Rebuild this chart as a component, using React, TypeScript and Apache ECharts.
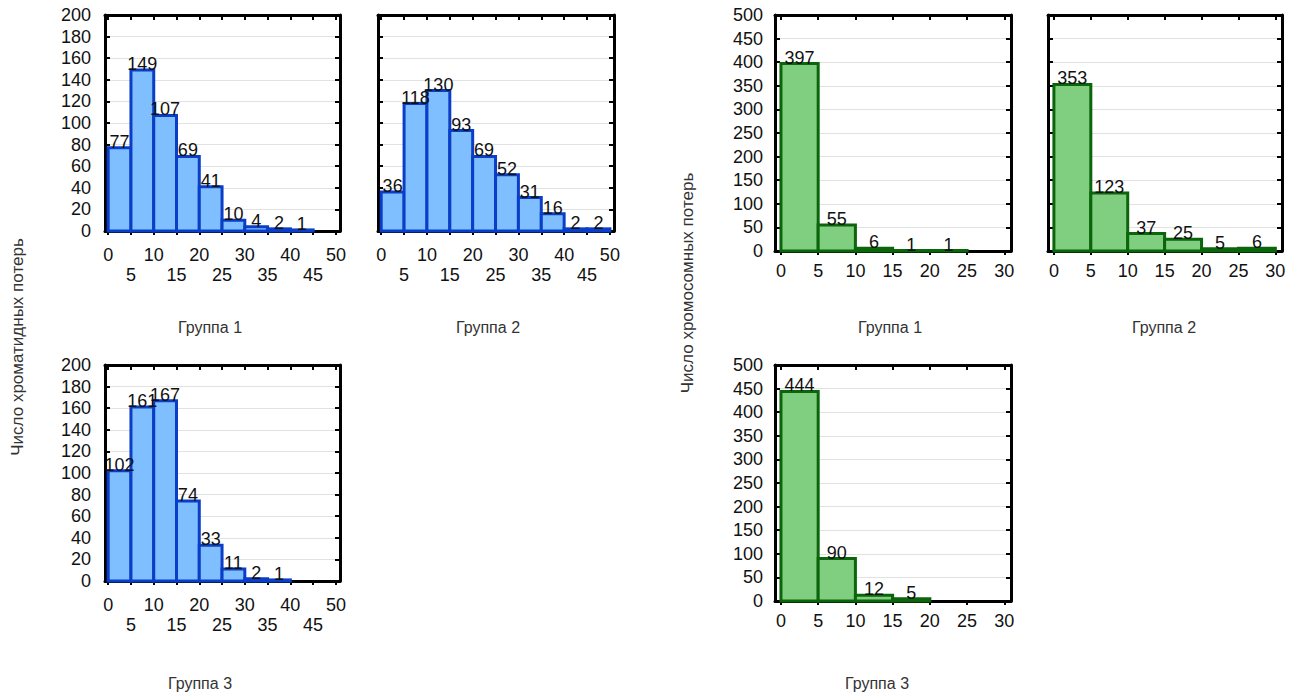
import React, { useEffect, useRef } from "react";
import * as echarts from "echarts";

// ---- data ----
const blueBinEdges = [0, 5, 10, 15, 20, 25, 30, 35, 40, 45, 50];
const greenBinEdges = [0, 5, 10, 15, 20, 25, 30];

const chromatidGroup1 = [77, 149, 107, 69, 41, 10, 4, 2, 1];
const chromatidGroup2 = [36, 118, 130, 93, 69, 52, 31, 16, 2, 2];
const chromatidGroup3 = [102, 161, 167, 74, 33, 11, 2, 1];

const chromosomeGroup1 = [397, 55, 6, 1, 1];
const chromosomeGroup2 = [353, 123, 37, 25, 5, 6];
const chromosomeGroup3 = [444, 90, 12, 5];

const blueXTicks = [0, 5, 10, 15, 20, 25, 30, 35, 40, 45, 50];
const greenXTicks = [0, 5, 10, 15, 20, 25, 30];

const groupTitles = ["Группа 1", "Группа 2", "Группа 3"];
const chromatidAxisName = "Число хроматидных потерь";
const chromosomeAxisName = "Число хромосомных потерь";

const FONT = "'Liberation Sans', Arial, sans-serif";

type Panel = {
  counts: number[];
  edges: number[];
  kind: "blue" | "green";
  left: number;
  top: number;
  width: number;
  height: number;
  yLabels: boolean;
};

const panels: Panel[] = [
  { counts: chromatidGroup1, edges: blueBinEdges, kind: "blue", left: 105, top: 15, width: 235, height: 216, yLabels: true },
  { counts: chromatidGroup2, edges: blueBinEdges, kind: "blue", left: 378, top: 15, width: 236, height: 216, yLabels: false },
  { counts: chromatidGroup3, edges: blueBinEdges, kind: "blue", left: 105, top: 365, width: 235, height: 216, yLabels: true },
  { counts: chromosomeGroup1, edges: greenBinEdges, kind: "green", left: 775, top: 15, width: 236, height: 236, yLabels: true },
  { counts: chromosomeGroup2, edges: greenBinEdges, kind: "green", left: 1048, top: 15, width: 234, height: 236, yLabels: false },
  { counts: chromosomeGroup3, edges: greenBinEdges, kind: "green", left: 775, top: 365, width: 236, height: 236, yLabels: true },
];

const styles = {
  blue: { fill: "#80bfff", stroke: "#0a3ec8", xMin: -0.7, xMax: 50.9, yMax: 200, yInt: 20, ticks: blueXTicks, labelMargin: 14, yMargin: 14 },
  green: { fill: "#80cf80", stroke: "#0b650b", xMin: -0.8, xMax: 30.9, yMax: 500, yInt: 50, ticks: greenXTicks, labelMargin: 10, yMargin: 12 },
};

function buildOption() {
  const grid: any[] = [];
  const xAxis: any[] = [];
  const yAxis: any[] = [];
  const series: any[] = [];

  panels.forEach((p, i) => {
    const s = styles[p.kind];
    grid.push({ left: p.left, top: p.top, width: p.width, height: p.height, containLabel: false });
    const lineStyle = { color: "#000", width: 3 };
    xAxis.push({
      type: "value",
      gridIndex: i,
      position: "bottom",
      min: s.xMin,
      max: s.xMax,
      axisLine: { show: true, onZero: false, lineStyle },
      axisTick: { show: true, inside: false, length: 4, lineStyle: { color: "#000", width: 2 }, customValues: s.ticks },
      axisLabel: {
        show: true,
        customValues: s.ticks,
        margin: s.labelMargin,
        fontFamily: FONT,
        fontSize: 18,
        color: "#111",
        lineHeight: 20,
        formatter: (v: number) => (p.kind === "blue" && v % 10 !== 0 ? "\n" + v : String(v)),
      },
      splitLine: { show: false },
    });
    xAxis.push({
      type: "value",
      gridIndex: i,
      position: "top",
      min: s.xMin,
      max: s.xMax,
      axisLine: { show: true, onZero: false, lineStyle },
      axisTick: { show: true, inside: true, length: 5, lineStyle: { color: "#000", width: 2 }, customValues: s.ticks },
      axisLabel: { show: false },
      splitLine: { show: false },
    });
    yAxis.push({
      type: "value",
      gridIndex: i,
      position: "left",
      min: 0,
      max: s.yMax,
      interval: s.yInt,
      axisLine: { show: true, onZero: false, lineStyle },
      axisTick: { show: true, inside: true, length: 5, lineStyle: { color: "#000", width: 2 } },
      axisLabel: {
        show: p.yLabels,
        margin: s.yMargin,
        fontFamily: FONT,
        fontSize: 18,
        color: "#111",
      },
      splitLine: { show: true, lineStyle: { color: "#e2e2e2", width: 1 } },
    });
    yAxis.push({
      type: "value",
      gridIndex: i,
      position: "right",
      min: 0,
      max: s.yMax,
      interval: s.yInt,
      axisLine: { show: true, onZero: false, lineStyle },
      axisTick: { show: true, inside: true, length: 5, lineStyle: { color: "#000", width: 2 } },
      axisLabel: { show: false },
      splitLine: { show: false },
    });

    const data = p.counts.map((c, k) => [p.edges[k], p.edges[k + 1], c]);
    series.push({
      type: "custom",
      xAxisIndex: 2 * i,
      yAxisIndex: 2 * i,
      data,
      clip: false,
      z: 3,
      renderItem: (params: any, api: any) => {
        const x0 = api.value(0);
        const x1 = api.value(1);
        const v = api.value(2);
        const tl = api.coord([x0, v]);
        const br = api.coord([x1, 0]);
        return {
          type: "group",
          children: [
            {
              type: "rect",
              shape: { x: tl[0], y: tl[1], width: br[0] - tl[0], height: br[1] - tl[1] },
              style: { fill: s.fill, stroke: s.stroke, lineWidth: 3 },
            },
            {
              type: "text",
              x: (tl[0] + br[0]) / 2,
              y: tl[1] + 3,
              z2: 10,
              style: {
                text: String(v),
                align: "center",
                verticalAlign: "bottom",
                font: `18px ${FONT}`,
                fill: "#111",
              },
            },
          ],
        };
      },
    });
  });

  const titleStyle = { font: `16px ${FONT}`, fill: "#333", align: "center", verticalAlign: "middle" };
  const nameStyle = { font: `17px ${FONT}`, fill: "#333", align: "center", verticalAlign: "middle" };
  const graphic: any[] = [
    { type: "text", x: 210, y: 327, style: { ...titleStyle, text: groupTitles[0] } },
    { type: "text", x: 488, y: 327, style: { ...titleStyle, text: groupTitles[1] } },
    { type: "text", x: 200, y: 683, style: { ...titleStyle, text: groupTitles[2] } },
    { type: "text", x: 890, y: 327, style: { ...titleStyle, text: groupTitles[0] } },
    { type: "text", x: 1164, y: 327, style: { ...titleStyle, text: groupTitles[1] } },
    { type: "text", x: 877, y: 683, style: { ...titleStyle, text: groupTitles[2] } },
    { type: "text", x: 17, y: 347, rotation: Math.PI / 2, style: { ...nameStyle, text: chromatidAxisName } },
    { type: "text", x: 687, y: 283, rotation: Math.PI / 2, style: { ...nameStyle, text: chromosomeAxisName } },
  ];

  return { animation: false, backgroundColor: "#fff", grid, xAxis, yAxis, series, graphic };
}

export default function App() {
  const ref = useRef<HTMLDivElement>(null);
  useEffect(() => {
    document.body.style.margin = "0";
    if (!ref.current) return;
    const chart = echarts.init(ref.current, undefined, { renderer: "svg" });
    chart.setOption(buildOption() as any);
    return () => chart.dispose();
  }, []);
  return <div ref={ref} style={{ position: "absolute", left: 0, top: 0, width: 1298, height: 693 }} />;
}
